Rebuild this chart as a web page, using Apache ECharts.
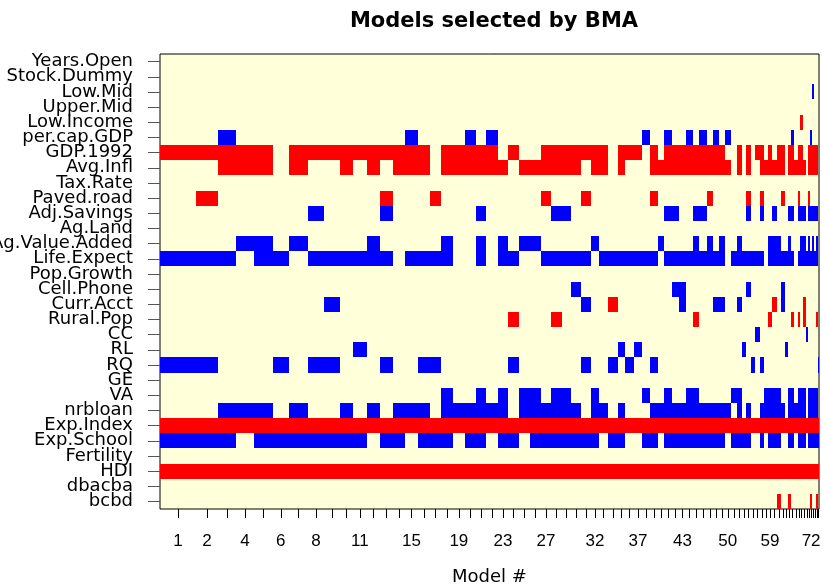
<!DOCTYPE html>
<html><head><meta charset="utf-8">
<script src="https://cdn.jsdelivr.net/npm/echarts@6/dist/echarts.min.js"></script>
<style>html,body{margin:0;padding:0;background:#fff}#c{width:822px;height:584px}</style>
</head><body><div id="c"></div>
<script>
// posterior model probabilities (%), models ordered 1..76
const postProb = [
 5.46,3.34,2.73,2.73,2.84,2.47,2.88,2.43,2.43,1.97,
 2.12,1.97,1.97,1.82,1.97,1.82,1.67,1.82,1.82,1.67,
 1.52,1.82,1.52,1.67,1.67,1.67,1.52,1.67,1.37,1.52,
 1.52,1.21,1.37,1.52,1.06,1.37,1.21,1.21,1.21,0.91,
 1.21,1.06,1.06,1.06,0.91,1.21,0.91,0.91,0.91,0.91,
 0.91,0.76,0.61,0.76,0.61,0.76,0.61,0.61,0.61,0.76,
 0.61,0.61,0.46,0.46,0.46,0.61,0.30,0.46,0.46,0.30,
 0.30,0.30,0.30,0.30,0.30,0.15];
const tickLabelModels = [1,2,4,6,8,11,15,19,23,27,32,37,43,50,59,72];
const varNames = ["Years.Open","Stock.Dummy","Low.Mid","Upper.Mid","Low.Income","per.cap.GDP","GDP.1992","Avg.Infl","Tax.Rate","Paved.road","Adj.Savings","Ag.Land","Ag.Value.Added","Life.Expect","Pop.Growth","Cell.Phone","Curr.Acct","Rural.Pop","CC","RL","RQ","GE","VA","nrbloan","Exp.Index","Exp.School","Fertility","HDI","dbacba","bcbd"];

// included models per variable: positive number = positive coefficient (blue), negative = negative (red)
const YearsOpen = [];
const StockDummy = [];
const LowMid = [73];
const UpperMid = [];
const LowIncome = [-68];
const perCapGDP = [3,15,20,22,38,41,44,46,48,50,65,72];
const GDP1992 = [-1,-2,-3,-4,-5,-7,-8,-9,-10,-11,-12,-13,-14,-15,-16,-18,-19,-20,-21,-22,-24,-27,-28,-29,-30,-31,-32,-33,-35,-36,-37,-39,-41,-42,-43,-44,-45,-46,-47,-48,-49,-52,-54,-56,-57,-59,-61,-62,-64,-65,-67,-68,-71,-72,-73,-74,-75];
const AvgInfl = [-3,-4,-5,-7,-10,-12,-14,-15,-16,-18,-19,-20,-21,-22,-23,-25,-26,-27,-28,-29,-30,-32,-33,-35,-39,-40,-41,-42,-43,-44,-45,-46,-47,-48,-49,-50,-52,-54,-57,-58,-59,-60,-61,-62,-64,-65,-66,-67,-68,-69,-71,-72,-73,-74,-75];
const TaxRate = [];
const PavedRoad = [-2,-13,-17,-27,-31,-39,-47,-54,-57,-62,-67,-71];
const AdjSavings = [8,13,21,28,29,41,42,45,46,54,57,60,64,65,67,68,69,71,72,73,74,75];
const AgLand = [];
const AgValueAdded = [4,5,7,12,18,21,23,25,26,32,40,45,47,49,52,59,60,61,64,68,69,71,73,75];
const LifeExpect = [1,2,3,5,6,8,9,10,11,12,13,15,16,17,18,21,23,24,27,28,29,30,31,33,34,35,36,37,38,39,41,42,43,44,45,46,47,48,49,51,52,53,54,55,56,57,59,60,61,62,63,64,65,67,68,69,70,71,72,73,74,75];
const PopGrowth = [];
const CellPhone = [30,42,43,54,62];
const CurrAcct = [9,31,-34,43,48,49,52,-60,62,-69];
const RuralPop = [-24,-28,-45,-59,-65,-67,-69,-75];
const CC = [56,70];
const RL = [11,35,37,53,63];
const RQ = [1,2,6,8,9,13,16,17,24,31,34,36,39,55,57,76];
const GE = [];
const VA = [18,21,23,25,26,28,29,32,38,41,44,45,51,52,58,59,60,61,64,65,67,68,69,71,72,73,74,75];
const nrbloan = [3,4,5,7,10,12,14,15,16,18,19,20,21,22,23,25,26,27,28,29,30,32,33,35,39,40,41,42,43,44,45,46,47,48,49,50,52,54,57,58,59,60,61,62,64,65,66,67,68,69,71,72,73,74,75];
const ExpIndex = [-1,-2,-3,-4,-5,-6,-7,-8,-9,-10,-11,-12,-13,-14,-15,-16,-17,-18,-19,-20,-21,-22,-23,-24,-25,-26,-27,-28,-29,-30,-31,-32,-33,-34,-35,-36,-37,-38,-39,-40,-41,-42,-43,-44,-45,-46,-47,-48,-49,-50,-51,-52,-53,-54,-55,-56,-57,-58,-59,-60,-61,-62,-63,-64,-65,-66,-67,-68,-69,-70,-71,-72,-73,-74,-75,-76];
const ExpSchool = [1,2,3,5,6,7,8,9,10,11,13,14,16,17,18,20,21,23,24,26,27,28,29,30,31,32,34,35,38,39,41,42,43,44,45,46,47,48,49,51,52,53,54,57,59,60,61,64,65,67,68,69,71,72,73,74,75,76];
const Fertility = [];
const HDI = [-1,-2,-3,-4,-5,-6,-7,-8,-9,-10,-11,-12,-13,-14,-15,-16,-17,-18,-19,-20,-21,-22,-23,-24,-25,-26,-27,-28,-29,-30,-31,-32,-33,-34,-35,-36,-37,-38,-39,-40,-41,-42,-43,-44,-45,-46,-47,-48,-49,-50,-51,-52,-53,-54,-55,-56,-57,-58,-59,-60,-61,-62,-63,-64,-65,-66,-67,-68,-69,-70,-71,-72,-73,-74,-75,-76];
const dbacba = [];
const bcbd = [-61,-64,-72,-75];

const rowSets = [YearsOpen,StockDummy,LowMid,UpperMid,LowIncome,perCapGDP,GDP1992,AvgInfl,TaxRate,PavedRoad,AdjSavings,AgLand,AgValueAdded,LifeExpect,PopGrowth,CellPhone,CurrAcct,RuralPop,CC,RL,RQ,GE,VA,nrbloan,ExpIndex,ExpSchool,Fertility,HDI,dbacba,bcbd];

const cum = [0];
postProb.forEach(p => cum.push(cum[cum.length - 1] + p));
const total = cum[cum.length - 1];
const centers = postProb.map((p, i) => (cum[i] + cum[i + 1]) / 2);
const labelValues = tickLabelModels.map(m => centers[m - 1]);

const cells = [];
rowSets.forEach((set, r) => {
  set.forEach(v => {
    const m = Math.abs(v);
    cells.push([cum[m - 1], cum[m], r, v < 0 ? -1 : 1]);
  });
});

const RED = '#FF0000', BLUE = '#0000FF', BG = '#FFFFD9';
const chart = echarts.init(document.getElementById('c'), null, {renderer: 'canvas'});
chart.setOption({
  animation: false,
  backgroundColor: '#ffffff',
  title: {
    text: 'Models selected by BMA',
    left: 489, top: 6, textAlign: 'center',
    textStyle: {fontFamily: 'DejaVu Sans', fontWeight: 'bold', fontSize: 21, color: '#000'}
  },
  grid: {left: 160, right: 3, top: 54, bottom: 75, show: true, backgroundColor: BG, borderColor: '#000', borderWidth: 1, containLabel: false, outerBoundsMode: 'none'},
  xAxis: {
    type: 'value', min: 0, max: total,
    name: 'Model #', nameLocation: 'middle', nameGap: 59,
    nameTextStyle: {fontFamily: 'DejaVu Sans', fontSize: 18, color: '#000'},
    axisLine: {show: false},
    splitLine: {show: false},
    axisTick: {show: true, length: 9, customValues: centers, lineStyle: {color: '#000', width: 1}},
    axisLabel: {
      show: true, margin: 24, customValues: labelValues,
      fontFamily: 'Liberation Sans', fontSize: 17, color: '#000',
      formatter: function (v) {
        let best = 0, d = Infinity;
        centers.forEach((c, i) => { const dd = Math.abs(c - v); if (dd < d) { d = dd; best = i; } });
        return String(best + 1);
      }
    }
  },
  yAxis: {
    type: 'category', data: varNames, inverse: true,
    axisLine: {show: false},
    axisTick: {show: true, alignWithLabel: true, length: 12, lineStyle: {color: '#555'}},
    axisLabel: {interval: 0, margin: 27, fontFamily: 'DejaVu Sans', fontSize: 18, color: '#000'},
    splitLine: {show: false}
  },
  series: [{
    type: 'custom',
    clip: true,
    encode: {x: [0, 1], y: 2},
    data: cells,
    renderItem: function (params, api) {
      const r = api.value(2);
      const p0 = api.coord([api.value(0), r]);
      const p1 = api.coord([api.value(1), r]);
      const h = api.size([0, 1])[1];
      const x0 = Math.round(p0[0]), x1 = Math.round(p1[0]);
      const y0 = Math.round(p0[1] - h / 2), y1 = Math.round(p0[1] + h / 2);
      return {
        type: 'rect',
        shape: {x: x0, y: y0, width: Math.max(1, x1 - x0), height: y1 - y0},
        style: {fill: api.value(3) < 0 ? RED : BLUE}
      };
    }
  }]
});
</script></body></html>
